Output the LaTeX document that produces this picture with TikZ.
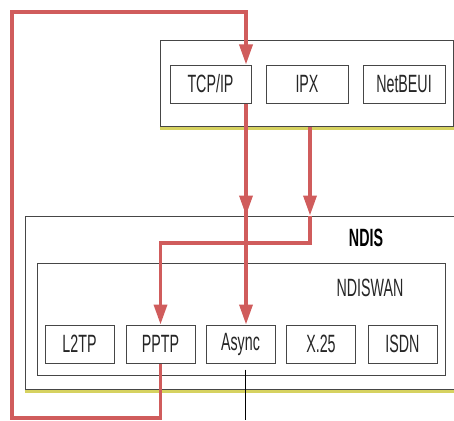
\documentclass[tikz,border=0pt]{standalone}
\usepackage{fontspec}
\setmainfont{Liberation Sans}
\newfontfamily\condfont[FakeStretch=0.57]{Liberation Sans}
\usetikzlibrary{arrows.meta}

\definecolor{wanred}{RGB}{208,92,92}
\definecolor{boxgray}{RGB}{70,70,70}
\definecolor{shadowyellow}{RGB}{214,210,96}

\tikzset{
	layerbox/.style = {draw = boxgray, line width = 1pt, fill = white, inner sep = 0pt},
	protobox/.style = {draw = boxgray, line width = 1pt, fill = white, inner sep = 0pt,
		minimum width = 69pt, minimum height = 38pt, text = black!85,
		font = \condfont\fontsize{25}{26}\selectfont},
	redline/.style = {draw = wanred, line width = 3.5pt},
	redarrow/.style = {redline, -{Triangle[length = 20pt, width = 13pt]}},
}

\begin{document}
\begin{tikzpicture}[x = 1pt, y = -1pt]
	\useasboundingbox (0,0) rectangle (454,420);
	
	% protocol layer
	\node [layerbox, minimum width = 293pt, minimum height = 85pt] (proto) at (306.5,83.5) {};
	\draw [shadowyellow, line width = 2.5pt] ([yshift = -2pt]proto.south west) -- ([yshift = -2pt]proto.south east);
	\node [protobox, minimum width = 81pt] (tcpip) at (210.5,84) {TCP/IP};
	\node [protobox, minimum width = 82pt] (ipx) at (307,84) {IPX};
	\node [protobox, minimum width = 82pt] (netbeui) at (404,84) {NetBEUI};
	
	% ndis layer
	\node [layerbox, minimum width = 429pt, minimum height = 173pt] (ndis) at (239.5,302.5) {};
	\draw [shadowyellow, line width = 2.5pt] ([yshift = -2pt]ndis.south west) -- ([yshift = -2pt]ndis.south east);
	\node [font = \condfont\bfseries\fontsize{25}{26}\selectfont] (ndislabel) at (366,238) {NDIS};
	\node [layerbox, minimum width = 408pt, minimum height = 112pt] (ndiswan) at (241,319) {};
	\node [font = \condfont\fontsize{25}{26}\selectfont, text = black!85] (wanlabel) at (370,288) {NDISWAN};
	
	% miniport boxes
	\node [protobox] (l2tp) at (79.5,344) {L2TP};
	\node [protobox] (pptp) at (160.5,344) {PPTP};
	\node [protobox] (async) at (240.5,344) {Async};
	\node [protobox] (x25) at (321,344) {X.25};
	\node [protobox] (isdn) at (402.5,344) {ISDN};
	
	% bends of the red paths
	\coordinate (hop) at (246,12);
	\coordinate (drop) at (310,243);
	\coordinate (loopbl) at (12,418);
	\coordinate (looptl) at (12,12);
	\coordinate (wire) at (245,420);
	
	% red paths
	\draw [redarrow] (pptp.south) |- (loopbl) -- (looptl) -| (tcpip.north -| hop);
	\draw [redarrow] (tcpip.south -| hop) -- (ndis.north -| hop);
	\draw [redarrow] (tcpip.south -| hop) -- (async.north -| hop);
	\draw [redarrow] (proto.south -| drop) -- (ndis.north -| drop);
	\draw [redarrow] (ndis.north -| drop) -- (drop) -| (pptp.north);
	
	% line out of async
	\draw [black, line width = 0.8pt] ([yshift = -6pt]async.south -| wire) -- (wire);
\end{tikzpicture}
\end{document}
